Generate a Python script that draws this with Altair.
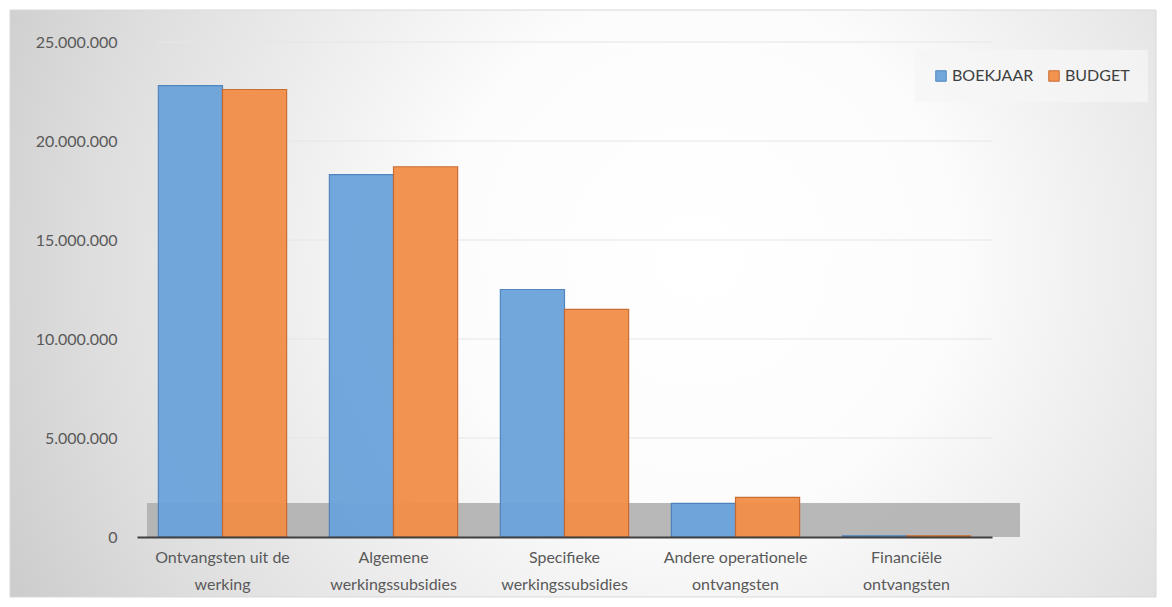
import altair as alt
import pandas as pd

categories = [
    "Ontvangsten uit de\nwerking",
    "Algemene\nwerkingssubsidies",
    "Specifieke\nwerkingssubsidies",
    "Andere operationele\nontvangsten",
    "Financiële\nontvangsten",
]
series = ["BOEKJAAR", "BUDGET"]
boekjaar = [22800000, 18300000, 12500000, 1700000, 60000]
budget = [22600000, 18700000, 11500000, 2000000, 60000]
y_ticks = [0, 5000000, 10000000, 15000000, 20000000, 25000000]

rows = []
for c, b, g in zip(categories, boekjaar, budget):
    rows.append({"categorie": c, "reeks": series[0], "waarde": b})
    rows.append({"categorie": c, "reeks": series[1], "waarde": g})
df = pd.DataFrame(rows)
grid_df = pd.DataFrame({"tick": y_ticks[1:]})

W, H = 855, 495
PL, PT, PR, PB = 129, 34, 170, 64
FONT = "Lato, 'Open Sans', sans-serif"

y_scale = alt.Scale(domain=[0, 25000000], nice=False)

bg = alt.Chart(pd.DataFrame({"a": [0]})).mark_rect(
    fill={
        "gradient": "radial",
        "x1": 0.6, "y1": 0.46, "r1": 0,
        "x2": 0.6, "y2": 0.46, "r2": 0.75,
        "stops": [
            {"offset": 0, "color": "#ffffff"},
            {"offset": 0.3, "color": "#fcfcfc"},
            {"offset": 0.7, "color": "#dedede"},
            {"offset": 1, "color": "#c2c2c2"},
        ],
    },
    stroke="#d9d9d9",
    strokeWidth=1,
).encode(
    x=alt.value(-PL + 2), x2=alt.value(W + PR - 6),
    y=alt.value(-PT + 2), y2=alt.value(H + PB - 4),
)

grid = alt.Chart(grid_df).mark_rule(color="#e6e6e6", strokeWidth=1).encode(
    y=alt.Y("tick:Q", scale=y_scale),
    x=alt.value(20),
    x2=alt.value(W),
)

floor = alt.Chart(pd.DataFrame({"a": [0]})).mark_rect(
    fill="#b0b0b0", opacity=0.9
).encode(
    x=alt.value(10), x2=alt.value(W + 28),
    y=alt.value(H - 34), y2=alt.value(H),
)

bars = alt.Chart(df).mark_bar(
    strokeWidth=1.2, opacity=0.95
).encode(
    x=alt.X(
        "categorie:N",
        sort=categories,
        title=None,
        scale=alt.Scale(paddingInner=0.25, paddingOuter=0.125),
        axis=alt.Axis(
            labelAngle=0,
            labelExpr="split(datum.label, '\\n')",
            labelFont=FONT,
            labelFontSize=16,
            labelColor="#595959",
            labelLineHeight=27,
            labelPadding=12,
            ticks=False,
            domainColor="#404040",
            domainWidth=2,
            grid=False,
            zindex=2,
        ),
    ),
    xOffset=alt.XOffset("reeks:N", sort=series),
    y=alt.Y(
        "waarde:Q",
        title=None,
        scale=y_scale,
        axis=alt.Axis(
            values=y_ticks,
            labelExpr="replace(format(datum.value, ','), regexp(',', 'g'), '.')",
            labelFont=FONT,
            labelFontSize=16,
            labelColor="#595959",
            labelPadding=20,
            ticks=False,
            domain=False,
            grid=False,
            zindex=2,
        ),
    ),
    fill=alt.Fill(
        "reeks:N",
        sort=series,
        scale=alt.Scale(domain=series, range=["#6ba3db", "#f28e48"]),
        legend=alt.Legend(
            title=None,
            orient="none",
            legendX=778,
            legendY=8,
            direction="horizontal",
            symbolType="square",
            symbolSize=110,
            symbolStrokeWidth=1,
            labelFont=FONT,
            labelFontSize=16,
            labelColor="#404040",
            columnPadding=12,
            symbolOffset=0,
            labelOffset=3,
            padding=18,
            fillColor="rgba(245,245,245,0.75)",
        ),
    ),
    stroke=alt.Stroke(
        "reeks:N",
        sort=series,
        scale=alt.Scale(domain=series, range=["#4a80bd", "#c8682a"]),
        legend=None,
    ),
)

chart = alt.layer(bg, grid, floor, bars).properties(
    width=W,
    height=H,
    padding={"left": PL, "top": PT, "right": PR, "bottom": PB},
    autosize=alt.AutoSizeParams(type="none"),
    background="#ffffff",
).configure_view(stroke=None)

chart.save("out.html", embed_options={"renderer": "svg", "actions": False})
